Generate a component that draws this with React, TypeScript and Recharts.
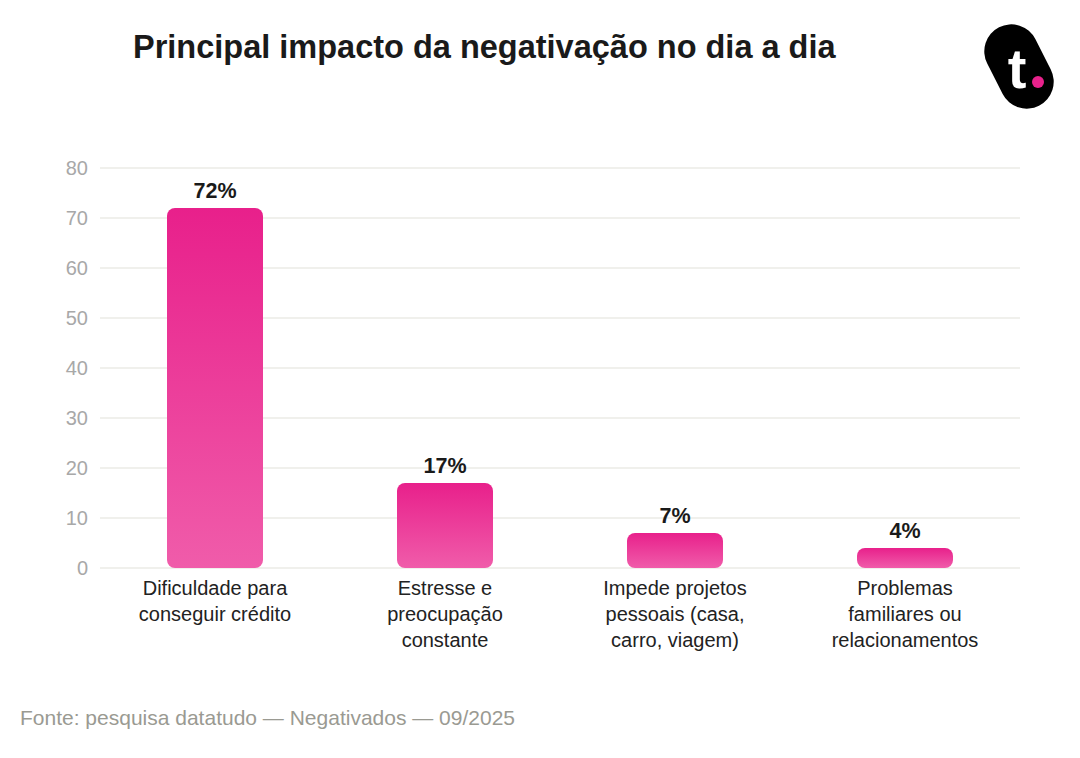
import * as React from "react";
import { Bar, BarChart, CartesianGrid, LabelList, XAxis, YAxis } from "recharts";

const TITLE = "Principal impacto da negativação no dia a dia";
const SOURCE = "Fonte: pesquisa datatudo — Negativados — 09/2025";

const categories = [
  "Dificuldade para\nconseguir crédito",
  "Estresse e\npreocupação\nconstante",
  "Impede projetos\npessoais (casa,\ncarro, viagem)",
  "Problemas\nfamiliares ou\nrelacionamentos",
];
const shares = [72, 17, 7, 4];
const yTicks = [0, 10, 20, 30, 40, 50, 60, 70, 80];

const data = categories.map((name, i) => ({ name, value: shares[i] }));

const FONT = "'Liberation Sans', Arial, Helvetica, sans-serif";

function CategoryTick(props: any) {
  const { x, y, payload } = props;
  const lines = String(payload.value).split("\n");
  return (
    <text x={x} y={y} textAnchor="middle" fill="#222" fontSize={20} fontFamily={FONT}>
      {lines.map((line, i) => (
        <tspan key={i} x={x} dy={i === 0 ? 19 : 26}>
          {line}
        </tspan>
      ))}
    </text>
  );
}

function Logo() {
  return (
    <svg width={110} height={100} style={{ position: "absolute", left: 960, top: 18 }}>
      <g transform="translate(59 48.5) rotate(63)">
        <rect x={-44} y={-27} width={88} height={54} rx={27} fill="#000" />
      </g>
      <text x={57} y={70} fontSize={56} fontWeight={700} fill="#fff" fontFamily={FONT} textAnchor="middle">
        t
      </text>
      <circle cx={78} cy={64} r={6} fill="#E8228C" />
    </svg>
  );
}

export default function App() {
  return (
    <div
      style={{
        position: "absolute",
        left: 0,
        top: 0,
        width: 1080,
        height: 758,
        background: "#fff",
        fontFamily: FONT,
      }}
    >
      <div
        style={{
          position: "absolute",
          left: 133,
          top: 29,
          fontSize: 32.5,
          fontWeight: 700,
          color: "#1a1a1a",
          whiteSpace: "nowrap",
        }}
      >
        {TITLE}
      </div>
      <Logo />
      <div style={{ position: "absolute", left: 0, top: 0 }}>
        <BarChart
          width={1080}
          height={680}
          data={data}
          margin={{ top: 168, right: 60, bottom: 0, left: 0 }}
          barCategoryGap={67}
        >
          <defs>
            <linearGradient id="barFill" x1="0" y1="0" x2="0" y2="1">
              <stop offset="0%" stopColor="#E8208B" />
              <stop offset="100%" stopColor="#F05CAA" />
            </linearGradient>
          </defs>
          <CartesianGrid vertical={false} stroke="#ebebe6" strokeWidth={1.5} />
          <XAxis
            dataKey="name"
            axisLine={false}
            tickLine={false}
            tick={<CategoryTick />}
            height={112}
            interval={0}
          />
          <YAxis
            width={100}
            domain={[0, 80]}
            ticks={yTicks}
            axisLine={false}
            tickLine={false}
            tickMargin={6}
            tick={{ fill: "#a8a8a8", fontSize: 20, fontFamily: FONT }}
          />
          <Bar dataKey="value" fill="url(#barFill)" radius={8} isAnimationActive={false}>
            <LabelList
              dataKey="value"
              position="top"
              offset={10}
              formatter={(v: any) => `${v}%`}
              style={{ fill: "#1a1a1a", fontSize: 21.5, fontWeight: 700, fontFamily: FONT }}
            />
          </Bar>
        </BarChart>
      </div>
      <div
        style={{
          position: "absolute",
          left: 20,
          top: 706,
          fontSize: 21,
          color: "#9a9a92",
          whiteSpace: "nowrap",
        }}
      >
        {SOURCE}
      </div>
    </div>
  );
}
